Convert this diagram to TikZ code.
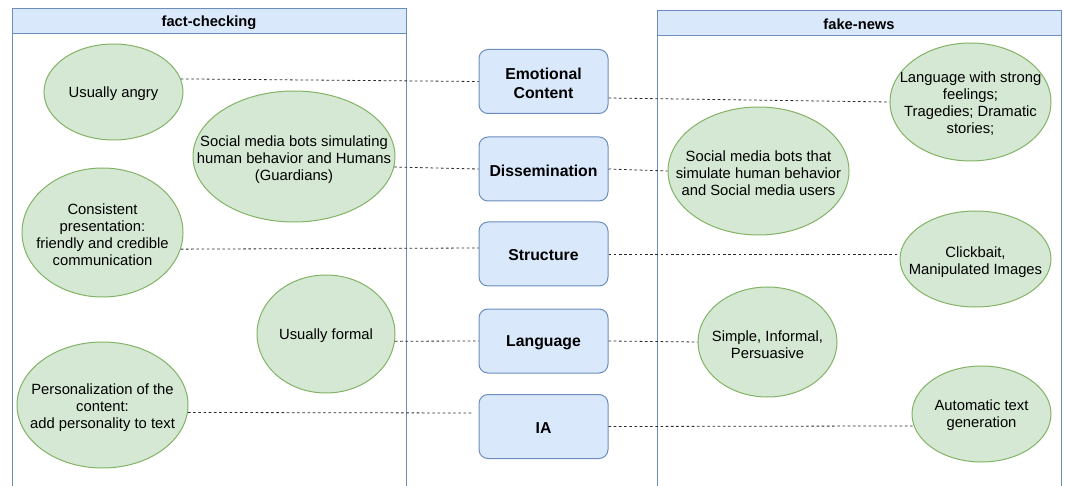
\documentclass[tikz,border=0pt]{standalone}
\usepackage{fontspec}
\setmainfont{Liberation Sans}
\usetikzlibrary{shapes.geometric,calc}
\definecolor{bluefill}{HTML}{DAE8FC}
\definecolor{bluedraw}{HTML}{6C8EBF}
\definecolor{greenfill}{HTML}{D5E8D4}
\definecolor{greendraw}{HTML}{82B366}
\definecolor{linkcol}{HTML}{2A2A2A}
\begin{document}
\begin{tikzpicture}[x=1pt,y=-1pt,
 container/.style={draw=bluedraw, line width=1pt},
 headbar/.style={draw=bluedraw, fill=bluefill, line width=1pt},
 headtext/.style={font=\fontsize{14.7}{17}\selectfont\bfseries, inner sep=0pt},
 topic/.style={draw=bluedraw, fill=bluefill, line width=1pt, rounded corners=9pt, minimum width=129pt, minimum height=64pt, inner sep=0pt},
 topictext/.style={align=center, font=\fontsize{15.8}{19}\selectfont\bfseries, inner sep=0pt},
 oval/.style={ellipse, draw=greendraw, fill=greenfill, line width=1pt, inner sep=0pt},
 ovaltext/.style={align=center, font=\fontsize{14.8}{17}\selectfont, inner sep=0pt},
 link/.style={draw=linkcol, line width=0.8pt, dash pattern=on 2.6pt off 2.6pt},
]
\useasboundingbox (0,0) rectangle (1065,486);

% containers
\draw[container] (12,492) -- (12,34) (406,34) -- (406,492);
\draw[headbar] (12,9) rectangle (406,34);
\node[headtext] (lefthead) at (209,22.5) {fact-checking};
\draw[container] (657,492) -- (657,36) (1061,36) -- (1061,492);
\draw[headbar] (657,11) rectangle (1061,36);
\node[headtext] (righthead) at (859,24.5) {fake-news};

% center topics
\node[topic] (emo) at (543.5,81.5) {};
\node[topictext] (emoT) at ([yshift=-1.5pt]emo.center) {Emotional\\Content};
\node[topic] (diss) at (543.5,169) {};
\node[topictext] (dissT) at ([yshift=-1.5pt]diss.center) {Dissemination};
\node[topic] (struct) at (543.5,254) {};
\node[topictext] (structT) at ([yshift=-1.5pt]struct.center) {Structure};
\node[topic] (lang) at (543.5,341) {};
\node[topictext] (langT) at ([yshift=-1.5pt]lang.center) {Language};
\node[topic] (ia) at (543.5,426.5) {};
\node[topictext] (iaT) at ([yshift=-1.5pt]ia.center) {IA};

% left ovals
\node[oval, minimum width=139pt, minimum height=96pt] (angry) at (113.5,92) {};
\node[ovaltext] (angryT) at ([yshift=-1.5pt]angry.center) {Usually angry};
\node[oval, minimum width=202pt, minimum height=131pt] (botsL) at (294,156.5) {};
\node[ovaltext] (botsLT) at ([yshift=-3pt]botsL.center) {Social media bots simulating\\human behavior and Humans\\(Guardians)};
\node[oval, minimum width=161pt, minimum height=129pt] (pres) at (102.5,232.5) {};
\node[ovaltext] (presT) at ([yshift=-2.5pt]pres.center) {Consistent\\presentation:\\friendly and credible\\communication};
\node[oval, minimum width=138pt, minimum height=118pt] (formal) at (326,334) {};
\node[ovaltext] (formalT) at ([yshift=-1.5pt]formal.center) {Usually formal};
\node[oval, minimum width=171pt, minimum height=126pt] (pers) at (102.5,405) {};
\node[ovaltext] (persT) at ([yshift=-2.5pt]pers.center) {Personalization of the\\content:\\add personality to text};

% right ovals
\node[oval, minimum width=161pt, minimum height=118pt] (feel) at (970.5,102) {};
\node[ovaltext] (feelT) at ([yshift=-2pt]feel.center) {Language with strong\\feelings;\\Tragedies; Dramatic\\stories;};
\node[oval, minimum width=181pt, minimum height=128pt] (botsR) at (758.5,171) {};
\node[ovaltext] (botsRT) at ([yshift=-2.5pt]botsR.center) {Social media bots that\\simulate human behavior\\and Social media users};
\node[oval, minimum width=151pt, minimum height=96pt] (click) at (975.5,259) {};
\node[ovaltext] (clickT) at ([yshift=-3pt]click.center) {Clickbait,\\Manipulated Images};
\node[oval, minimum width=139pt, minimum height=110pt] (simple) at (767.5,342) {};
\node[ovaltext] (simpleT) at ([yshift=-3pt]simple.center) {Simple, Informal,\\Persuasive};
\node[oval, minimum width=139pt, minimum height=96pt] (auto) at (981.5,414) {};
\node[ovaltext] (autoT) at ([yshift=-1.5pt]auto.center) {Automatic text\\generation};

% connectors
\draw[link] (angry.11) -- (emo.west);
\draw[link] ([yshift=-16.5pt]emo.east) -- (feel.west);
\draw[link] (botsL.-6) -- (diss.west);
\draw[link] (diss.east) -- (botsR.west);
\draw[link] (pres.-12) -- ([yshift=6pt]struct.west);
\draw[link] (struct.east) -- (struct.east -| click.west);
\draw[link] (formal.-6) -- (lang.west);
\draw[link] (lang.east) -- (simple.west);
\draw[link, shorten >=6pt] (pers.-5) -- ([yshift=13.5pt]ia.west);
\draw[link] (ia.east) -- (auto.190);
\end{tikzpicture}
\end{document}
